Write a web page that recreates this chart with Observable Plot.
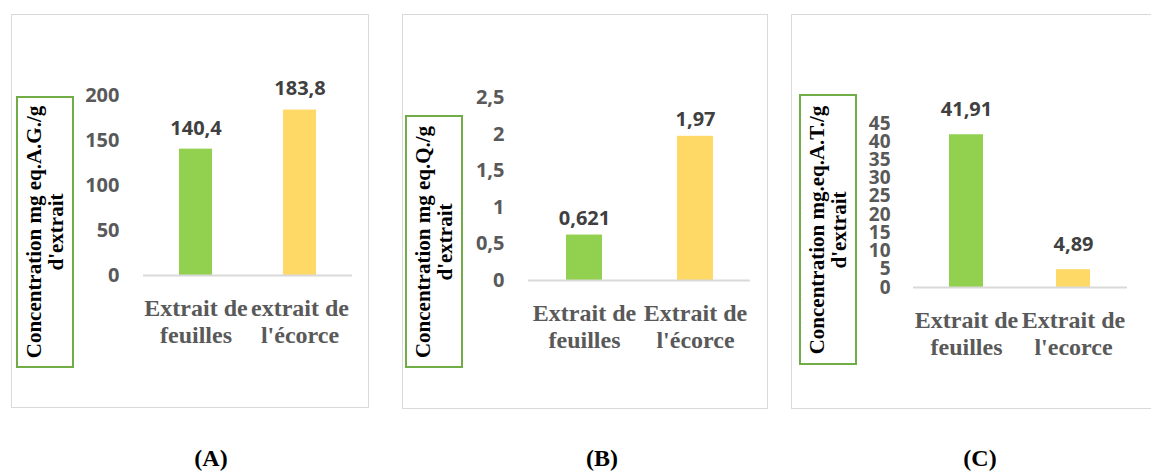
<!DOCTYPE html>
<html>
<head>
<meta charset="utf-8">
<script src="https://cdn.jsdelivr.net/npm/d3@7"></script>
<script src="https://cdn.jsdelivr.net/npm/@observablehq/plot@0.6"></script>
<style>
  html, body { margin: 0; padding: 0; background: #fff; overflow: hidden; }
  #fig { position: relative; width: 1151px; height: 471px; }
  #fig svg { position: absolute; left: 0; top: 0; }
  .frame { position: absolute; border: 1.5px solid #d9d9d9; box-sizing: border-box; }
  .ybox { position: absolute; border: 2px solid #70ad47; box-sizing: border-box; }
  .ytitle {
    position: absolute; left: 50%; top: 50%;
    transform: translate(-50%, -50%) rotate(-90deg);
    white-space: nowrap; text-align: center; color: #000;
    font: bold 21px "Liberation Serif", "Times New Roman", serif; line-height: 22px;
  }
  .tag {
    position: absolute; transform: translateX(-50%); color: #000;
    font: bold 24px "Liberation Serif", "Times New Roman", serif; line-height: 26px;
  }
</style>
</head>
<body>
<div id="fig"></div>
<script>
// Phenolic (A), flavonoid (B) and tannin (C) content of the two extracts
const categoriesA = ["Extrait de feuilles", "extrait de l'écorce"];
const categoriesB = ["Extrait de feuilles", "Extrait de l'écorce"];
const categoriesC = ["Extrait de feuilles", "Extrait de l'ecorce"];

const valuesA = [140.4, 183.8];
const valuesB = [0.621, 1.97];
const valuesC = [41.91, 4.89];

const ticksA = [0, 50, 100, 150, 200];
const ticksB = [0, 0.5, 1, 1.5, 2, 2.5];
const ticksC = [0, 5, 10, 15, 20, 25, 30, 35, 40, 45];

const titleA = ["Concentration mg eq.A.G./g", "d'extrait"];
const titleB = ["Concentration mg eq.Q./g", "d'extrait"];
const titleC = ["Concentration mg.eq.A.T./g", "d'extrait"];

const panelTags = ["(A)", "(B)", "(C)"];
const barColors = ["#92D050", "#FFD966"];

// Layout of each panel on the 1151 x 471 page
const W = 1151, H = 471;
const panels = [
  {cats: categoriesA, vals: valuesA, ticks: ticksA, title: titleA, tag: panelTags[0],
   frame: [11, 14, 358, 394], box: [16, 96, 58, 272], tickFont: 20,
   x0: 143, x1: 352, yBase: 275, yTop: 95, tickRight: 119, labelDy: -21, tagX: 211},
  {cats: categoriesB, vals: valuesB, ticks: ticksB, title: titleB, tag: panelTags[1],
   frame: [402, 14, 366, 395], box: [405, 115, 58, 253], tickFont: 20,
   x0: 528, x1: 750, yBase: 280, yTop: 97, tickRight: 504, labelDy: -16.5, tagX: 602},
  {cats: categoriesC, vals: valuesC, ticks: ticksC, title: titleC, tag: panelTags[2],
   frame: [791, 14, 362, 395], box: [799, 94, 58, 271], tickFont: 19,
   x0: 913, x1: 1127, yBase: 287, yTop: 123, tickRight: 890, labelDy: -25, tagX: 980}
];

const comma = v => String(v).replace(".", ",");
const fig = document.getElementById("fig");

function box(cls, [left, top, width, height]) {
  const d = document.createElement("div");
  d.className = cls;
  Object.assign(d.style, {left: left + "px", top: top + "px", width: width + "px", height: height + "px"});
  fig.appendChild(d);
  return d;
}

for (const p of panels) {
  box("frame", p.frame);

  const rows = p.cats.map((c, i) => ({cat: c, value: p.vals[i], color: barColors[i]}));
  const pad = 0.68;

  const chart = Plot.plot({
    width: W,
    height: H,
    marginLeft: p.x0,
    marginRight: W - p.x1,
    marginTop: p.yTop,
    marginBottom: H - p.yBase,
    style: {background: "transparent", overflow: "visible"},
    x: {domain: p.cats, paddingInner: pad, paddingOuter: pad / 2},
    y: {domain: [0, d3.max(p.ticks)]},
    color: {type: "identity"},
    marks: [
      Plot.barY(rows, {x: "cat", y: "value", fill: "color"}),
      Plot.ruleY([0], {stroke: "#d9d9d9", strokeWidth: 2}),
      Plot.axisY({
        ticks: p.ticks, tickSize: 0, tickPadding: p.x0 - p.tickRight, label: null,
        tickFormat: comma, fontSize: p.tickFont, fontFamily: "Open Sans", fontWeight: "bold", fill: "#595959"
      }),
      Plot.axisX({
        tickSize: 0, tickPadding: 21, label: null, lineHeight: 1.125,
        tickFormat: d => d.replace(" de ", " de\n"),
        fontSize: 24, fontFamily: "Liberation Serif", fontWeight: "bold", fill: "#595959"
      }),
      Plot.text(rows, {
        x: "cat", y: "value", text: d => comma(d.value), dy: p.labelDy,
        fontSize: 20, fontFamily: "Open Sans", fontWeight: "bold", fill: "#404040"
      })
    ]
  });
  fig.appendChild(chart);

  const yb = box("ybox", p.box);
  const t = document.createElement("div");
  t.className = "ytitle";
  t.innerHTML = p.title.map(s => s.replace(/&/g, "&amp;")).join("<br>");
  yb.appendChild(t);

  const tag = document.createElement("div");
  tag.className = "tag";
  tag.textContent = p.tag;
  Object.assign(tag.style, {left: p.tagX + "px", top: "445px"});
  fig.appendChild(tag);
}
</script>
</body>
</html>
